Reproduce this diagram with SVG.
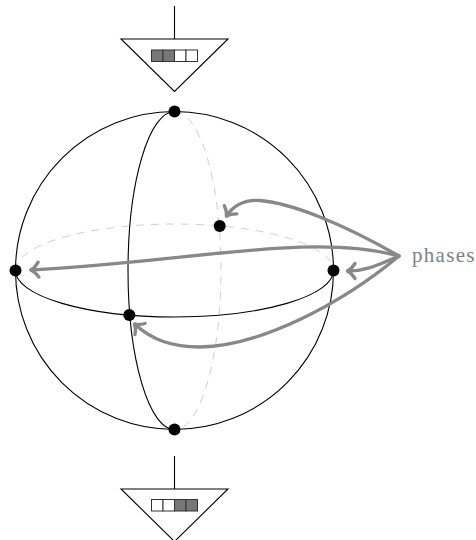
<svg xmlns="http://www.w3.org/2000/svg" width="476" height="540" viewBox="0 0 476 540">
<defs>
<style>
.l{fill:none;stroke:#000;stroke-width:1.1}
.d{fill:none;stroke:#cfcfcf;stroke-width:1;stroke-dasharray:8 7}
.a{fill:none;stroke:#888;stroke-width:3.300;stroke-linecap:round;stroke-linejoin:round}
.t{fill:#fff;stroke:#000;stroke-width:1.1;stroke-linejoin:miter}
.c{stroke:#333;stroke-width:1;fill:#fff}
.g{fill:#777}
.n{fill:#000}
text{font-family:"Liberation Serif",serif;font-size:21px;fill:#808080}
</style>
<marker id="h" markerUnits="userSpaceOnUse" markerWidth="20" markerHeight="20" refX="11" refY="10" orient="auto"><path d="M3.500 2.500Q7 8 11 10Q7 12 3.500 17.500" fill="none" stroke="#888" stroke-width="3.300" stroke-linecap="round" stroke-linejoin="round"/></marker>
</defs>
<g id="sphere">
<path class="d" d="M15.500 270.500A159 46.500 0 0 1 333.500 270.500"/>
<path class="d" d="M174.500 111.500A46.500 159 0 0 1 174.500 429.500"/>
<circle class="l" cx="174.500" cy="270.500" r="159"/>
<path class="l" d="M15.500 270.500A159 46.500 0 0 0 333.500 270.500"/>
<path class="l" d="M174.500 111.500A46.500 159 0 0 0 174.500 429.500"/>
</g>
<g id="connectors">
<path class="a" marker-end="url(#h)" d="M399 256C340 222 290 203 260 200.500C244 199.500 233 206 226.500 216"/>
<path class="a" marker-end="url(#h)" d="M399 256C310 232 190 262 31 270"/>
<path class="a" marker-end="url(#h)" d="M399 256C382 263 368 271 347.500 271"/>
<path class="a" marker-end="url(#h)" d="M399 256C340 305 260 346 200 347C172 347 152 340 134.500 324"/>
</g>
<g id="node-top-dot"><circle class="n" cx="174.500" cy="111.500" r="6"/></g>
<g id="node-bottom-dot"><circle class="n" cx="174.500" cy="429.500" r="6"/></g>
<g id="node-left-dot"><circle class="n" cx="15.500" cy="270.500" r="6"/></g>
<g id="node-right-dot"><circle class="n" cx="333.500" cy="270.500" r="6"/></g>
<g id="node-front-dot"><circle class="n" cx="129.300" cy="315" r="6"/></g>
<g id="node-back-dot"><circle class="n" cx="219.700" cy="226" r="6"/></g>
<g id="node-top-gate">
<path class="l" d="M174.500 6V39"/>
<path class="t" d="M121 39H228L174.500 91.500Z"/>
<rect class="c g" x="151.500" y="50" width="11.500" height="11.500"/>
<rect class="c g" x="163" y="50" width="11.500" height="11.500"/>
<rect class="c" x="174.500" y="50" width="11.500" height="11.500"/>
<rect class="c" x="186" y="50" width="11.500" height="11.500"/>
</g>
<g id="node-bottom-gate">
<path class="l" d="M174.500 456V489"/>
<path class="t" d="M121 489H228L174.500 541.500Z"/>
<rect class="c" x="151.500" y="499.500" width="11.500" height="11.500"/>
<rect class="c" x="163" y="499.500" width="11.500" height="11.500"/>
<rect class="c g" x="174.500" y="499.500" width="11.500" height="11.500"/>
<rect class="c g" x="186" y="499.500" width="11.500" height="11.500"/>
</g>
<g id="node-phases"><text x="412" y="262" textLength="62.500" lengthAdjust="spacing">phases</text></g>
</svg>
